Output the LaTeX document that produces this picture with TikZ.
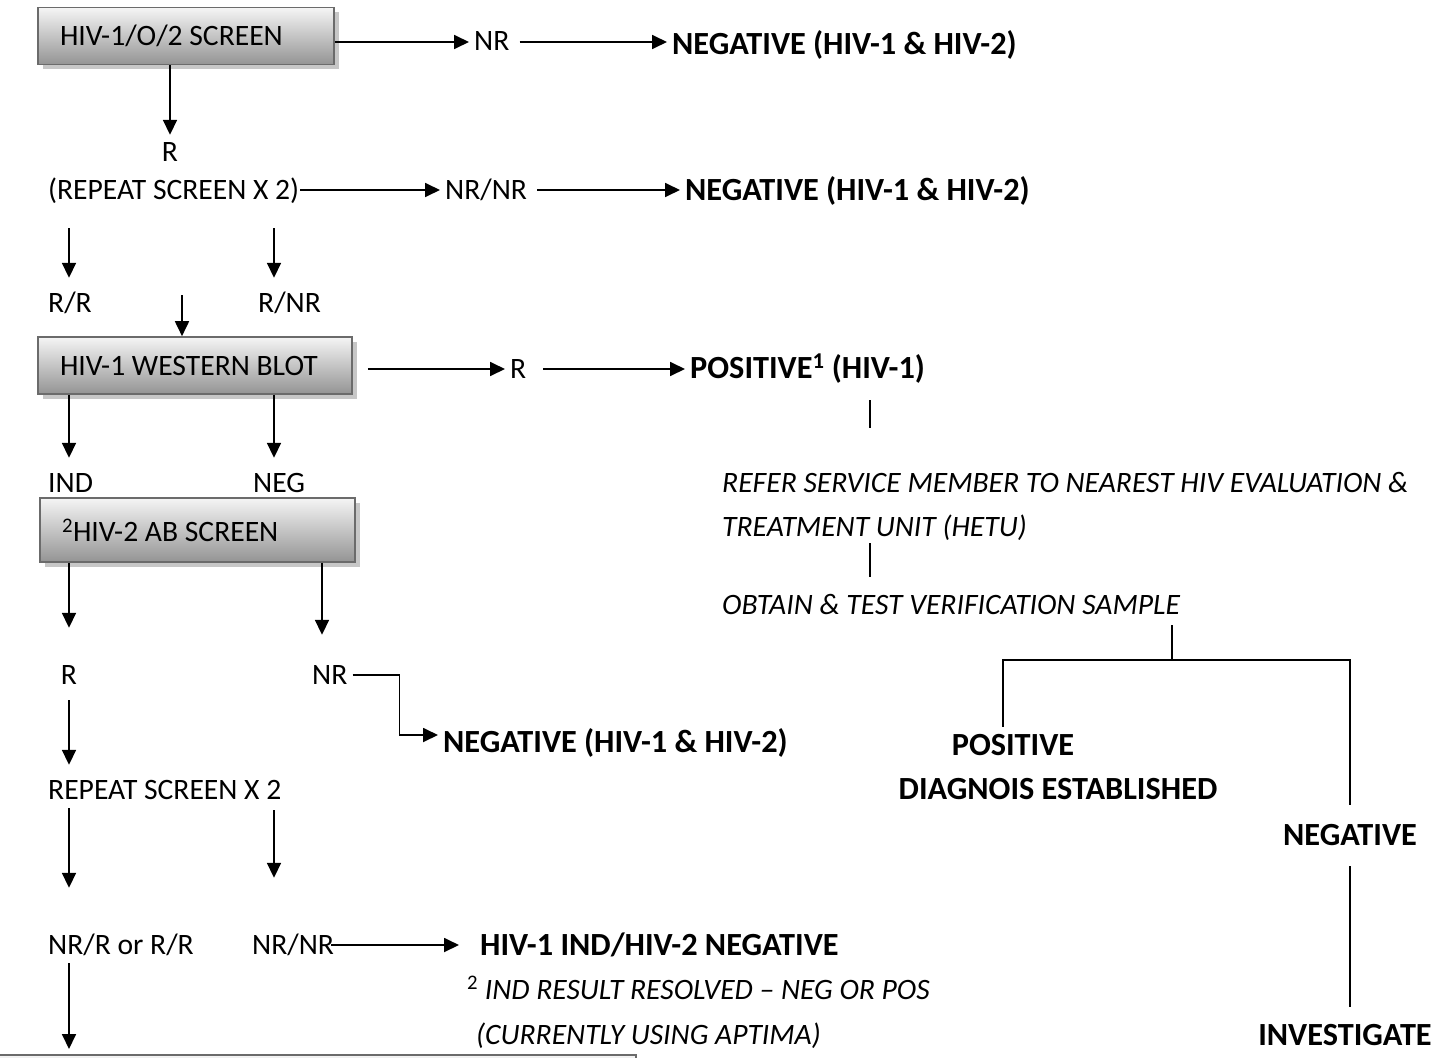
\documentclass[tikz,border=0pt]{standalone}
\usepackage{fontspec}
\setmainfont{Carlito}
\usetikzlibrary{arrows.meta,shadows}

\begin{document}
\begin{tikzpicture}[x=1pt,y=-1pt,
  every node/.style={font=\fontsize{29.6}{34}\selectfont},
  lbl/.style={inner xsep=5pt,inner ysep=0pt,text height=22pt,text depth=4pt,anchor=base west},
  res/.style={lbl,font=\fontsize{32.3}{37}\selectfont\bfseries},
  note/.style={lbl,font=\fontsize{29.6}{34}\selectfont\itshape},
  box/.style={draw=black!58,line width=1.6pt,top color=black!4,bottom color=black!42,
    drop shadow={shadow xshift=5pt,shadow yshift=-5pt,fill=black!22,opacity=1},
    inner xsep=22pt,minimum height=57pt,align=flush left},
  arr/.style={draw,line width=1.8pt,-{Triangle[length=15pt,width=14pt]}},
  ln/.style={draw,line width=1.8pt}]
\useasboundingbox (0,0) rectangle (1445,1057);
\clip (0,0) rectangle (1445,1057);
\coordinate (ca) at (69,0);
\coordinate (cb) at (274,0);
\coordinate (cd) at (322,0);
\coordinate (c1) at (870,0);
\coordinate (fork) at (1172,660);
\coordinate (fl) at (1003,660);
\coordinate (fr) at (1350,660);
\coordinate (jn) at (182,295);

\node[box,text width=252pt] (scr) at (186,36) {HIV-1/O/2 SCREEN};
\node[lbl] (nr1) at (469,51) {NR};
\node[res] (neg1) at (667,55) {NEGATIVE (HIV-1 \& HIV-2)};
\draw[arr] (nr1.west -| scr.east) -- (nr1.west);
\draw[arr,shorten <=5pt] (nr1.east) -- (nr1.east -| neg1.west);

\node[lbl,anchor=base] (r1) at (170,161) {R};
\draw[arr,shorten >=4pt] (scr.south -| r1.north) -- (r1.north);
\node[lbl] (rep1) at (43,199) {(REPEAT SCREEN X 2)};
\node[lbl] (nrnr1) at (440,199) {NR/NR};
\node[res] (neg2) at (680,200) {NEGATIVE (HIV-1 \& HIV-2)};
\draw[arr,shorten <=-4pt] (rep1.east) -- (nrnr1.west);
\draw[arr,shorten <=5pt] (nrnr1.east) -- (nrnr1.east -| neg2.west);

\node[lbl] (rr) at (43,312) {R/R};
\node[lbl] (rnr) at (253,312) {R/NR};
\draw[arr,shorten <=25pt,shorten >=12pt] (rep1.south -| ca) -- (rr.north -| ca);
\draw[arr,shorten <=25pt,shorten >=12pt] (rep1.south -| cb) -- (rnr.north -| cb);

\node[box,text width=270pt] (wb) at (195,365.5) {HIV-1 WESTERN BLOT};
\draw[arr] (jn) -- (jn |- wb.north);
\node[lbl] (r2) at (505,378) {R};
\node[res] (pos1) at (685,378) {POSITIVE\textsuperscript{1} (HIV-1)};
\draw[arr,shorten <=15pt] (r2.west -| wb.east) -- (r2.west);
\draw[arr,shorten <=12pt] (r2.east) -- (r2.east -| pos1.west);

\node[lbl] (ind) at (43,492) {IND};
\node[lbl] (neg) at (248,492) {NEG};
\draw[arr,shorten >=12pt] (wb.south -| ca) -- (ind.north -| ca);
\draw[arr,shorten >=12pt] (wb.south -| cb) -- (neg.north -| cb);

\node[note] (refer) at (717,492) {REFER SERVICE MEMBER TO NEAREST HIV EVALUATION \&};
\node[note] (hetu) at (717,536) {TREATMENT UNIT (HETU)};
\node[note] (obtain) at (717,614) {OBTAIN \& TEST VERIFICATION SAMPLE};
\draw[ln,shorten <=18pt,shorten >=42pt] (pos1.south -| c1) -- (refer.north -| c1);
\draw[ln,shorten <=3pt,shorten >=15pt] (hetu.south -| c1) -- (obtain.north -| c1);

\node[res,anchor=base] (pos2) at (1013,755) {POSITIVE};
\node[res,anchor=base] (diag) at (1058,799) {DIAGNOIS ESTABLISHED};
\node[res,anchor=base] (neg4) at (1350,845) {NEGATIVE};
\node[res,anchor=base] (inv) at (1345,1045) {INVESTIGATE};
\draw[ln,shorten <=7pt] (obtain.south -| fork) -- (fork);
\draw[ln,shorten <=6pt,shorten >=18pt] (fl |- pos2.north) -- (fl) -- (fr) -- (fr |- neg4.north);
\draw[ln,shorten <=17pt,shorten >=16pt] (neg4.south) -- (neg4.south |- inv.north);

\node[box,text width=271pt,minimum height=64pt] (h2) at (197.5,530) {\textsuperscript{2}HIV-2 AB SCREEN};
\node[lbl,anchor=base] (r3) at (69,684) {R};
\node[lbl] (nr3) at (307,684) {NR};
\draw[arr,shorten >=34pt] (h2.south -| ca) -- (r3.north -| ca);
\draw[arr,shorten >=27pt] (h2.south -| cd) -- (nr3.north -| cd);
\node[res] (neg3) at (438,752) {NEGATIVE (HIV-1 \& HIV-2)};
\draw[arr] (nr3.east) -- ++(47,0) |- ([yshift=8pt]neg3.west);

\node[lbl] (rep2) at (43,799) {REPEAT SCREEN X 2};
\draw[arr,shorten <=12pt,shorten >=12pt] (r3.south -| ca) -- (rep2.north -| ca);
\node[lbl] (nrr) at (43,954) {NR/R or R/R};
\node[lbl] (nrnr2) at (247,954) {NR/NR};
\draw[arr,shorten <=5pt,shorten >=44pt] (rep2.south -| ca) -- (nrr.north -| ca);
\draw[arr,shorten <=7pt,shorten >=54pt] (rep2.south -| cb) -- (nrnr2.north -| cb);
\node[res] (ind2) at (475,955) {HIV-1 IND/HIV-2 NEGATIVE};
\draw[arr,shorten >=8pt] ([xshift=-8pt]nrnr2.east) -- ([xshift=-8pt]nrnr2.east -| ind2.west);
\node[note] (fn) at (462,999) {\textup{\textsuperscript{2}} IND RESULT RESOLVED -- NEG OR POS};
\node[note] (apt) at (471,1044) {(CURRENTLY USING APTIMA)};

\node[box,anchor=north west,minimum width=645pt,minimum height=60pt,inner sep=0pt] (nxt) at (-10,1054) {};
\draw[arr,shorten <=5pt,shorten >=5pt] (nrr.south -| ca) -- (nxt.north -| ca);
\end{tikzpicture}
\end{document}
